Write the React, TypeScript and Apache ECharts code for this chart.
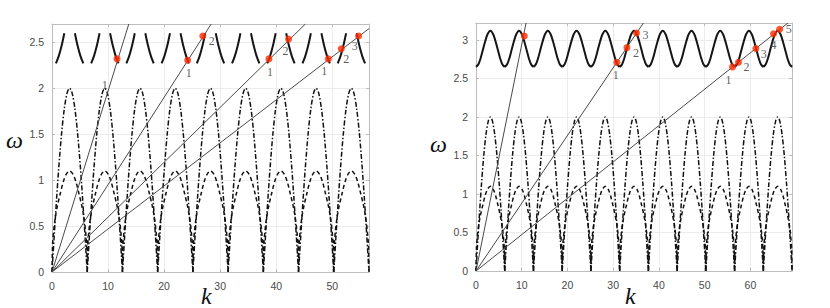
import React, { useEffect, useRef } from "react";
import * as echarts from "echarts";

// ---- data ----
const PERIOD = 6.2832; // spacing of the zeros along k
const LEFT_PERIODS = 9;
const RIGHT_PERIODS = 11;
const LEFT_KMAX = 56.55;
const RIGHT_KMAX = 69.1;
const LEFT_WMAX = 2.7;
const RIGHT_WMAX = 3.22;

// axis titles
const xTitle = "k";
const yTitle = "ω";

// dash-dot arch (one period), offsets in k and omega values
const archK = [0, 0.15, 0.4, 0.8, 1.2, 1.7, 2.2, 2.7, 3.1416, 3.58, 4.08, 4.58, 5.08, 5.48, 5.88, 6.13, 6.2832];
const archW = [0, 0.15, 0.4, 0.78, 1.13, 1.5, 1.78, 1.95, 2.0, 1.95, 1.78, 1.5, 1.13, 0.78, 0.4, 0.15, 0];
// dashed inner arch (one period)
const innerK = [0, 0.1, 0.3, 0.6, 1.0, 1.5, 2.0, 2.5, 3.1416, 3.78, 4.28, 4.78, 5.28, 5.68, 5.98, 6.18, 6.2832];
const innerW = [0, 0.3, 0.45, 0.6, 0.73, 0.86, 0.98, 1.06, 1.1, 1.06, 0.98, 0.86, 0.73, 0.6, 0.45, 0.3, 0];
// upper band, left panel (two arms per period, gaps between)
const bandLK = [0.7, 1.2, 1.7, 2.2, null, 4.08, 4.58, 5.08, 5.58];
const bandLW = [2.27, 2.35, 2.46, 2.6, null, 2.6, 2.46, 2.35, 2.27];
// upper band, right panel (full period)
const bandRK = [0, 0.5, 1.0, 1.5, 2.0, 2.5, 3.1416, 3.78, 4.28, 4.78, 5.28, 5.78, 6.2832];
const bandRW = [2.65, 2.68, 2.76, 2.87, 2.98, 3.07, 3.12, 3.07, 2.98, 2.87, 2.76, 2.68, 2.65];

// straight lines from the origin (end points)
const leftLineEnds = [[13.7, 2.7], [28.4, 2.7], [45.2, 2.7], [56.55, 2.65]];
const rightLineEnds = [[10.95, 3.22], [36.6, 3.22], [68.2, 3.22]];

// red intersection points
const leftPtK = [11.6, 24.2, 26.9, 38.7, 42.2, 49.3, 51.6, 54.7];
const leftPtW = [2.32, 2.305, 2.57, 2.32, 2.535, 2.32, 2.43, 2.57];
const leftPtLabel = ["", "1", "2", "1", "2", "1", "2", "3"];
const rightPtK = [10.57, 30.8, 33.0, 35.1, 56.1, 57.4, 61.2, 65.05, 66.4];
const rightPtW = [3.05, 2.71, 2.9, 3.09, 2.65, 2.71, 2.89, 3.08, 3.14];
const rightPtLabel = ["", "1", "2", "3", "1", "2", "3", "4", "5"];
// stray label on the left panel
const leftExtraLabel = { k: 9.4, w: 2.03, text: "1" };

const xTicks = 10;
const yTicks = 0.5;

// label offsets (px) for each point label
const leftLabelOff = [[0, 0], [1, 13], [9, 5], [1, 13], [-3, 12], [-4, 12], [5, 10], [-4, 10]];
const rightLabelOff = [[0, 0], [-1, 13], [9, 5], [9, 2], [-4, 13], [8, 5], [8, 6], [0, 11], [9, 0]];

function tile(ks: (number | null)[], ws: (number | null)[], periods: number) {
  const out: any[] = [];
  for (let p = 0; p < periods; p++) {
    for (let i = 0; i < ks.length; i++) {
      const k = ks[i];
      const w = ws[i];
      if (k === null || w === null) out.push([null, null]);
      else out.push([k + p * PERIOD, w]);
    }
    out.push([null, null]);
  }
  return out;
}

export default function App() {
  const ref = useRef<HTMLDivElement>(null);
  useEffect(() => {
    if (!ref.current) return;
    const chart = echarts.init(ref.current, null, { renderer: "svg" });
    const axisCommon = {
      type: "value" as const,
      axisLine: { show: true, onZero: false, lineStyle: { color: "#bdbdbd", width: 1 } },
      axisTick: { show: true, inside: true, length: 3, lineStyle: { color: "#bdbdbd" } },
      splitLine: { show: true, lineStyle: { color: "#ececec", width: 1 } },
      axisLabel: { color: "#4a4a4a", fontSize: 10.5, fontFamily: "Liberation Sans, Arial, sans-serif", showMaxLabel: false },
    };
    const titleFont = { fontFamily: "Liberation Serif, DejaVu Serif, serif", fontStyle: "italic", fontSize: 24, fill: "#111", align: "center", verticalAlign: "middle" };
    const grids = [
      { left: 52, top: 24, width: 317, height: 248, containLabel: false, outerBoundsMode: "none" },
      { left: 476, top: 23, width: 316, height: 248, containLabel: false, outerBoundsMode: "none" },
    ];
    const xAxes = [
      { ...axisCommon, gridIndex: 0, min: 0, max: LEFT_KMAX, interval: xTicks },
      { ...axisCommon, gridIndex: 1, min: 0, max: RIGHT_KMAX, interval: xTicks },
    ];
    const yAxes = [
      { ...axisCommon, gridIndex: 0, min: 0, max: LEFT_WMAX, interval: yTicks },
      { ...axisCommon, gridIndex: 1, min: 0, max: RIGHT_WMAX, interval: yTicks },
    ];
    // top & right frame lines
    const frameX = [0, 1].map((i) => ({ ...axisCommon, gridIndex: i, position: "top", min: 0, max: i === 0 ? LEFT_KMAX : RIGHT_KMAX, interval: xTicks, axisLabel: { show: false }, splitLine: { show: false } }));
    const frameY = [0, 1].map((i) => ({ ...axisCommon, gridIndex: i, position: "right", min: 0, max: i === 0 ? LEFT_WMAX : RIGHT_WMAX, interval: yTicks, axisLabel: { show: false }, splitLine: { show: false } }));

    const series: any[] = [];
    const panels = [
      { idx: 0, periods: LEFT_PERIODS, bandK: bandLK, bandW: bandLW, lines: leftLineEnds, pk: leftPtK, pw: leftPtW, pl: leftPtLabel, off: leftLabelOff },
      { idx: 1, periods: RIGHT_PERIODS, bandK: bandRK, bandW: bandRW, lines: rightLineEnds, pk: rightPtK, pw: rightPtW, pl: rightPtLabel, off: rightLabelOff },
    ];
    panels.forEach((p) => {
      const base = { type: "line", xAxisIndex: p.idx, yAxisIndex: p.idx, showSymbol: false, symbol: "none", smooth: 0.3, connectNulls: false, silent: true };
      series.push({ ...base, data: tile(archK, archW, p.periods), lineStyle: { color: "#111", width: 1.5, type: [5, 2, 1.5, 2] } });
      series.push({ ...base, data: tile(innerK, innerW, p.periods), lineStyle: { color: "#111", width: 1.5, type: [4, 3] } });
      series.push({ ...base, data: tile(p.bandK, p.bandW, p.periods), lineStyle: { color: "#151515", width: 2 } });
      p.lines.forEach((e) => {
        series.push({ ...base, smooth: false, data: [[0, 0], e], lineStyle: { color: "#4a4a4a", width: 1 } });
      });
      series.push({
        type: "scatter",
        xAxisIndex: p.idx,
        yAxisIndex: p.idx,
        symbolSize: 7,
        itemStyle: { color: "#ff2a00" },
        z: 5,
        data: p.pk.map((k, i) => ({
          value: [k, p.pw[i]],
          label: {
            show: p.pl[i] !== "",
            formatter: p.pl[i],
            position: "inside",
            offset: p.off[i],
            color: "#333",
            fontSize: 12,
            fontFamily: "Liberation Serif, DejaVu Serif, serif",
          },
        })),
      });
    });
    series.push({
      type: "scatter",
      xAxisIndex: 0,
      yAxisIndex: 0,
      symbolSize: 0,
      data: [{
        value: [leftExtraLabel.k, leftExtraLabel.w],
        label: { show: true, formatter: leftExtraLabel.text, position: "inside", offset: [0, -1], color: "#333", fontSize: 12, fontFamily: "Liberation Serif, DejaVu Serif, serif" },
      }],
    });

    chart.setOption({
      animation: false,
      backgroundColor: "#ffffff",
      grid: grids,
      xAxis: [...xAxes, ...frameX],
      yAxis: [...yAxes, ...frameY],
      series,
      graphic: [
        { type: "text", left: 201, top: 284, style: { ...titleFont, text: xTitle } },
        { type: "text", left: 625, top: 284, style: { ...titleFont, text: xTitle } },
        { type: "text", left: 6, top: 128, style: { ...titleFont, text: yTitle } },
        { type: "text", left: 430, top: 132, style: { ...titleFont, text: yTitle } },
      ],
    });
    return () => chart.dispose();
  }, []);
  return <div ref={ref} style={{ width: 830, height: 308, position: "absolute", left: 0, top: 0 }} />;
}
